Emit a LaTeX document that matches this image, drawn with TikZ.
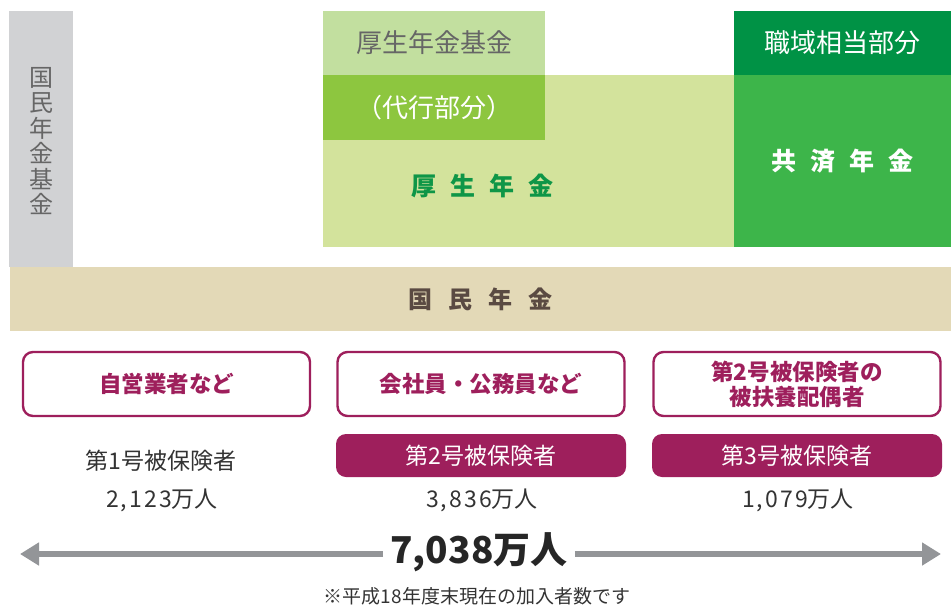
\documentclass[tikz,border=0pt]{standalone}
\usepackage{fontspec}
\setmainfont{Noto Sans CJK JP}
\newfontfamily\numfont[LetterSpace=9]{Noto Sans CJK JP}
\usetikzlibrary{arrows.meta}
\definecolor{grayc}{HTML}{D1D2D4}
\definecolor{beige}{HTML}{E3D9B7}
\definecolor{lightg}{HTML}{C2DF9F}
\definecolor{midg}{HTML}{8DC63F}
\definecolor{paleg}{HTML}{D3E39C}
\definecolor{darkg}{HTML}{009245}
\definecolor{kyosai}{HTML}{3DB54A}
\definecolor{greentxt}{HTML}{0E9647}
\definecolor{browntxt}{HTML}{5A4A42}
\definecolor{grtxt}{HTML}{666666}
\definecolor{plum}{HTML}{9E1F5C}
\definecolor{txt}{HTML}{333333}
\definecolor{arrowg}{HTML}{939598}
\tikzset{
  blk/.style={inner sep=0pt, outer sep=0pt},
  outbox/.style={draw=plum, line width=2.4pt, rounded corners=10pt, fill=white,
    minimum width=287pt, minimum height=64pt, inner sep=0pt, align=center,
    font=\fontsize{22.5pt}{25pt}\selectfont\bfseries, text=plum},
  filbox/.style={fill=plum, rounded corners=10pt, minimum width=290pt, minimum height=43pt,
    inner sep=0pt, text=white, font=\fontsize{23pt}{25pt}\selectfont},
  plain/.style={inner sep=0pt, text=txt, font=\fontsize{23pt}{25pt}\selectfont},
  numtxt/.style={inner sep=0pt, text=txt, font=\fontsize{23pt}{25pt}\selectfont},
}
\begin{document}
\begin{tikzpicture}[x=1pt,y=-1pt]
\useasboundingbox (0,0) rectangle (951,608);
% upper blocks
\node[blk, fill=grayc, minimum width=64pt, minimum height=256pt] (kikin) at (41,139) {};
\node[blk, text=grtxt, align=center, font=\fontsize{24pt}{25.5pt}\selectfont] (kikintxt) at (41,141) {国\\民\\年\\金\\基\\金};
\node[blk, fill=paleg, minimum width=411pt, minimum height=172pt] (kosei) at (528.5,161) {};
\node[blk, fill=lightg, minimum width=222pt, minimum height=64pt, text=grtxt, font=\fontsize{26pt}{28pt}\selectfont] (koseikikin) at (434,43) {厚生年金基金};
\node[blk, fill=midg, minimum width=222pt, minimum height=65pt, text=white, font=\fontsize{26pt}{28pt}\selectfont] (daiko) at (434,107.5) {（代行部分）};
\node[blk, text=greentxt, font=\fontsize{25pt}{28pt}\selectfont\bfseries] (koseitxt) at (482,186) {厚\hspace{14pt}生\hspace{14pt}年\hspace{14pt}金};
\node[blk, fill=darkg, minimum width=217pt, minimum height=64pt, text=white, font=\fontsize{26pt}{28pt}\selectfont] (shokuiki) at (842.5,43) {職域相当部分};
\node[blk, fill=kyosai, minimum width=217pt, minimum height=172pt, text=white, font=\fontsize{25pt}{28pt}\selectfont\bfseries] (kyosainode) at (842.5,161) {共\hspace{14pt}済\hspace{14pt}年\hspace{14pt}金};
\node[blk, fill=beige, minimum width=941pt, minimum height=64pt, text=browntxt, font=\fontsize{24pt}{28pt}\selectfont\bfseries] (kokumin) at (480.5,299) {国\hspace{16pt}民\hspace{16pt}年\hspace{16pt}金};
% lower boxes
\node[outbox] (b1) at (166.5,384) {自営業者など};
\node[outbox] (b2) at (481,384) {会社員・公務員など};
\node[outbox] (b3) at (797,384) {第2号被保険者の\\被扶養配偶者};
\node[plain] (h1) at (161,461) {第1号被保険者};
\node[filbox] (h2) at (481,455.5) {第2号被保険者};
\node[filbox] (h3) at (797,455.5) {第3号被保険者};
\node[numtxt] (n1) at (162,500) {{\numfont 2,123}万人};
\node[numtxt] (n2) at (482,500) {{\numfont 3,836}万人};
\node[numtxt] (n3) at (798,500) {{\numfont 1,079}万人};
% total arrow
\node[inner sep=0pt, text=black!85, font=\fontsize{37pt}{40pt}\selectfont\bfseries] (total) at (479,552) {7,038万人};
\coordinate (al) at (20,554);
\coordinate (ar) at (941,554);
\draw[arrowg, line width=6pt, -{Triangle[length=19pt,width=22pt]}] ([xshift=-7pt]total.west |- al) -- (al);
\draw[arrowg, line width=6pt, -{Triangle[length=19pt,width=22pt]}] ([xshift=7pt]total.east |- ar) -- (ar);
\node[inner sep=0pt, text=txt, font=\fontsize{19pt}{22pt}\selectfont] (note) at (477,596) {※平成18年度末現在の加入者数です};
\end{tikzpicture}
\end{document}
